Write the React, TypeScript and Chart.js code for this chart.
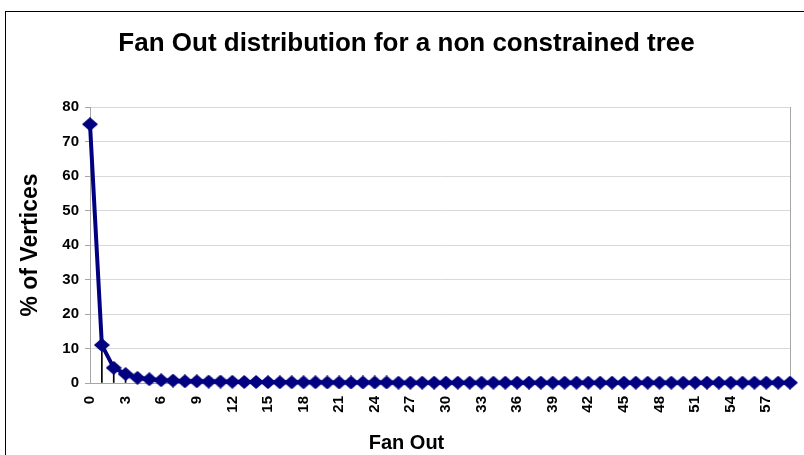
import React, { useEffect, useRef } from 'react';
import { Chart, registerables } from 'chart.js';

Chart.register(...registerables);

// ---- Data ----
const fanOutCategories: string[] = [
  '0', '1', '2', '3', '4', '5', '6', '7', '8', '9',
  '10', '11', '12', '13', '14', '15', '16', '17', '18', '19',
  '20', '21', '22', '23', '24', '25', '26', '27', '28', '29',
  '30', '31', '32', '33', '34', '35', '36', '37', '38', '39',
  '40', '41', '42', '43', '44', '45', '46', '47', '48', '49',
  '50', '51', '52', '53', '54', '55', '56', '57', '58', '59',
];

const percentVertices: number[] = [
  75, 11, 4.4, 2.6, 1.5, 1.1, 0.8, 0.7, 0.5, 0.5,
  0.4, 0.4, 0.35, 0.3, 0.3, 0.25, 0.2, 0.2, 0.2, 0.2,
  0.15, 0.15, 0.15, 0.15, 0.15, 0.15, 0.1, 0.1, 0.1, 0.1,
  0.1, 0.1, 0.1, 0.1, 0.1, 0.1, 0.1, 0.1, 0.1, 0.1,
  0.1, 0.1, 0.1, 0.1, 0.1, 0.1, 0.1, 0.1, 0.1, 0.1,
  0.1, 0.1, 0.1, 0.1, 0.1, 0.1, 0.1, 0.1, 0.1, 0.1,
];

// drop lines from each point to the axis (hidden at the first point, like the original)
const dropLines: (number | null)[] = percentVertices.map((v, i) => (i === 0 ? null : v));

const yMin = 0;
const yMax = 80;
const yStep = 10;
const xLabelEvery = 3;

const chartTitle = 'Fan Out distribution for a non constrained tree';
const xAxisTitle = 'Fan Out';
const yAxisTitle = '% of Vertices';

const NAVY = '#000080';
const AXIS_GRAY = '#a6a6a6';
const GRID_GRAY = '#d9d9d9';
const FONT = '"Liberation Sans", Arial, sans-serif';

function makeDiamond(w: number, h: number, color: string): HTMLCanvasElement {
  const c = document.createElement('canvas');
  c.width = w;
  c.height = h;
  const g = c.getContext('2d');
  if (g) {
    g.fillStyle = color;
    g.beginPath();
    g.moveTo(0, h / 2);
    g.lineTo(w / 2, 0);
    g.lineTo(w, h / 2);
    g.lineTo(w / 2, h);
    g.closePath();
    g.fill();
  }
  return c;
}

export default function App() {
  const canvasRef = useRef<HTMLCanvasElement | null>(null);

  useEffect(() => {
    const canvas = canvasRef.current;
    if (!canvas) return;
    Chart.defaults.font.family = FONT;
    Chart.defaults.color = '#000';

    const diamond = makeDiamond(16, 14, NAVY);

    const chart = new Chart(canvas, {
      type: 'line',
      data: {
        labels: fanOutCategories,
        datasets: [
          {
            type: 'line',
            label: yAxisTitle,
            data: percentVertices,
            borderColor: NAVY,
            backgroundColor: NAVY,
            borderWidth: 4,
            tension: 0,
            clip: false,
            pointStyle: diamond,
            pointRadius: 7.5,
            pointBorderWidth: 0,
            pointBackgroundColor: NAVY,
            pointBorderColor: NAVY,
            order: 0,
          } as any,
          {
            type: 'bar',
            label: 'drop',
            data: dropLines,
            backgroundColor: '#000',
            borderWidth: 0,
            barThickness: 1,
            order: 1,
          } as any,
        ],
      },
      options: {
        responsive: false,
        animation: false,
        events: [],
        layout: { padding: { left: 20, right: 23, top: 0, bottom: 0 } },
        plugins: {
          legend: { display: false },
          tooltip: { enabled: false },
          title: {
            display: true,
            text: chartTitle,
            color: '#000',
            font: { family: FONT, size: 26, weight: 'bold' },
            padding: { top: 28.4, bottom: 47.4 },
          },
          subtitle: {
            display: true,
            position: 'bottom',
            text: xAxisTitle,
            color: '#000',
            font: { family: FONT, size: 20, weight: 'bold' },
            padding: { top: 3, bottom: 0 },
          },
        },
        scales: {
          x: {
            type: 'category',
            offset: false,
            grid: {
              offset: false,
              drawOnChartArea: true,
              color: (ctx: any) => (ctx.index === fanOutCategories.length - 1 ? AXIS_GRAY : 'transparent'),
              tickLength: 5,
              tickColor: 'transparent',
            },
            border: { color: AXIS_GRAY, width: 1 },
            ticks: {
              autoSkip: false,
              maxRotation: 90,
              minRotation: 90,
              padding: 8,
              color: '#000',
              font: { family: FONT, size: 15, weight: 'bold' },
              callback: (_v: any, idx: number) => (idx % xLabelEvery === 0 ? fanOutCategories[idx] : ''),
            },
            afterFit: (s: any) => {
              s.height = 45;
            },
          },
          y: {
            min: yMin,
            max: yMax,
            ticks: {
              stepSize: yStep,
              padding: 6,
              color: '#000',
              font: { family: FONT, size: 15, weight: 'bold' },
            },
            grid: { color: GRID_GRAY, tickColor: AXIS_GRAY, tickLength: 5 },
            border: { color: AXIS_GRAY, width: 1 },
            title: {
              display: true,
              text: yAxisTitle,
              color: '#000',
              font: { family: FONT, size: 23, weight: 'bold' },
              padding: { top: -3, bottom: 0 },
            },
            afterFit: (s: any) => {
              s.width = 70;
            },
          },
        },
      } as any,
    });

    return () => {
      chart.destroy();
    };
  }, []);

  return (
    <div
      style={{
        position: 'fixed',
        left: 0,
        top: 0,
        width: 804,
        height: 455,
        overflow: 'hidden',
        background: '#fff',
      }}
    >
      <div
        style={{
          position: 'absolute',
          left: 5,
          top: 11,
          width: 1000,
          height: 1000,
          border: '1px solid #000',
          boxSizing: 'border-box',
        }}
      />
      <canvas
        ref={canvasRef}
        width={816}
        height={455}
        style={{ position: 'absolute', left: 0, top: 0, width: 816, height: 455 }}
      />
    </div>
  );
}
